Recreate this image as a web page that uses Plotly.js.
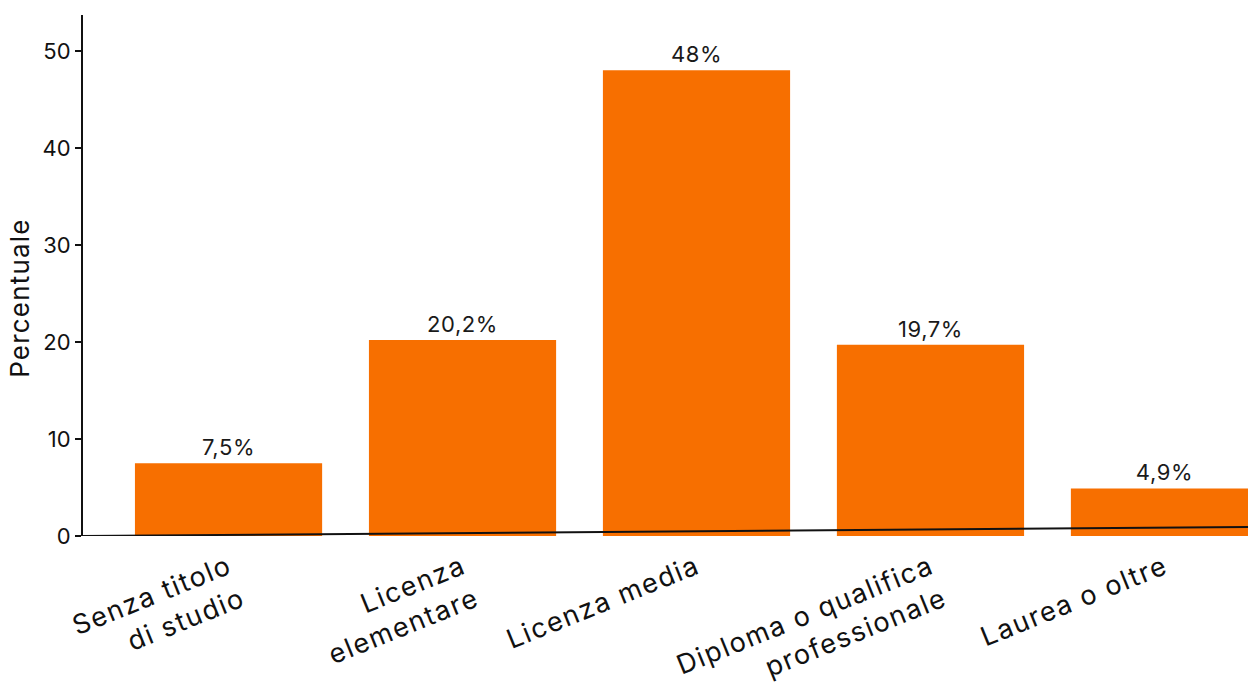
<!DOCTYPE html>
<html><head><meta charset="utf-8">
<script src="https://cdn.plot.ly/plotly-3.0.1.min.js"></script>
<style>html,body{margin:0;padding:0;background:#fff}#chart{width:1248px;height:695px}
#chart .xtick text{letter-spacing:1.6px}
#chart .annotation-text{letter-spacing:1.2px}
#chart .bartext{letter-spacing:0.6px}
</style>
</head><body><div id="chart"></div>
<script>
const categories = ["Senza titolo<br>di studio", "Licenza<br>elementare", "Licenza media", "Diploma o qualifica<br>professionale", "Laurea o oltre"];
const values = [7.5, 20.2, 48, 19.7, 4.9];
const valueLabels = ["7,5%", "20,2%", "48%", "19,7%", "4,9%"];
const yTicks = [0, 10, 20, 30, 40, 50];
const yTitle = "Percentuale";

const FONT = "Inter, 'Open Sans', sans-serif";
const trace = {
  type: "bar",
  x: [0,1,2,3,4],
  y: values,
  text: valueLabels,
  textposition: "outside",
  cliponaxis: false,
  textfont: {family: FONT, size: 22, color: "#1a1a1a"},
  marker: {color: "#F76F00", line: {width: 0}},
  hoverinfo: "none"
};
const layout = {
  width: 1248, height: 695,
  margin: {l: 83, r: 0, t: 15, b: 159},
  paper_bgcolor: "#fff", plot_bgcolor: "#fff",
  bargap: 0.2,
  showlegend: false,
  font: {family: FONT, size: 21, color: "#1a1a1a"},
  xaxis: {
    range: [-0.622, 4.357],
    tickvals: [0,1,2,3,4],
    ticktext: categories,
    tickangle: -22,
    showline: false, showgrid: false, zeroline: false,
    ticks: "outside", ticklen: 4, tickcolor: "rgba(0,0,0,0)",
    tickfont: {family: FONT, size: 27, color: "#111"}
  },
  yaxis: {
    range: [0, 53.7],
    tickvals: yTicks,
    showline: true, linecolor: "#111", linewidth: 2,
    ticks: "outside", ticklen: 6, tickwidth: 2, tickcolor: "#111",
    showgrid: false, zeroline: false,
    tickfont: {family: FONT, size: 22, color: "#111"}
  },
  annotations: [{
    text: yTitle, textangle: -90, showarrow: false,
    xref: "paper", x: -0.055, xanchor: "center",
    yref: "y", y: 24.5, yanchor: "middle",
    font: {family: FONT, size: 26, color: "#111"}
  }],
  shapes: [{
    type: "line", xref: "paper", yref: "y",
    x0: 0, y0: 0, x1: 1, y1: 0.93,
    line: {color: "#111", width: 2},
    layer: "above"
  }]
};
Plotly.newPlot("chart", [trace], layout, {displayModeBar: false, staticPlot: true});
</script></body></html>
